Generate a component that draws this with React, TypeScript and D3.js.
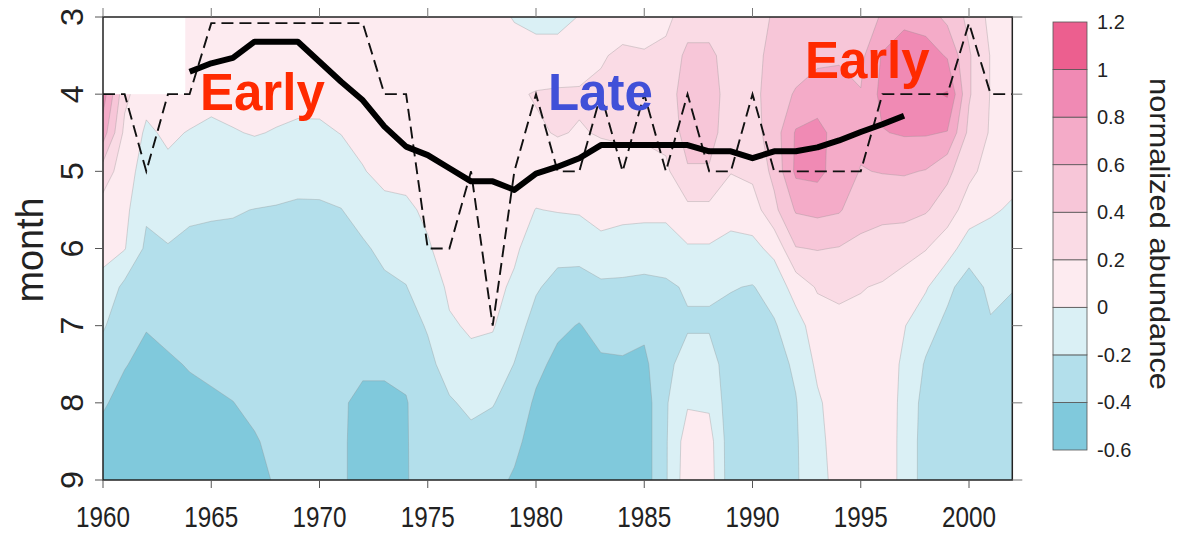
import React from "react";
import * as d3 from "d3";

// ---------------- data ----------------
const YEARS = d3.range(1960, 2003); // grid columns, one per year
const MONTH_ROWS = [3, 3.5, 4, 4.5, 5, 5.5, 6, 6.5, 7, 7.5, 8, 8.5, 9]; // grid rows

// normalized abundance, one row per year (1960..2002), values for MONTH_ROWS
const ABUNDANCE: number[][] = [
  [0.1, 0.1, 0.9, 0.7, 0.3, 0.12, 0.05, -0.05, -0.18, -0.3, -0.38, -0.46, -0.5], // 1960
  [0.1, 0.1, 0.25, 0.15, 0.1, 0.05, 0.01, -0.25, -0.32, -0.39, -0.46, -0.5, -0.5],
  [0.1, 0.1, 0.06, -0.03, -0.1, -0.17, -0.24, -0.31, -0.39, -0.45, -0.5, -0.52, -0.52],
  [0.1, 0.1, 0.1, 0.03, -0.04, -0.13, -0.21, -0.27, -0.36, -0.42, -0.47, -0.5, -0.52],
  [0.1, 0.15, 0.1, -0.01, -0.09, -0.17, -0.24, -0.29, -0.34, -0.39, -0.44, -0.48, -0.5],
  [0.12, 0.15, 0.05, -0.035, -0.11, -0.185, -0.236, -0.282, -0.327, -0.373, -0.42, -0.46, -0.48], // 1965
  [0.12, 0.14, 0.06, -0.01, -0.1, -0.19, -0.237, -0.278, -0.318, -0.36, -0.402, -0.44, -0.47],
  [0.12, 0.14, 0.06, 0.01, -0.1, -0.203, -0.237, -0.27, -0.305, -0.339, -0.373, -0.41, -0.43],
  [0.12, 0.14, 0.06, -0.01, -0.13, -0.21, -0.24, -0.27, -0.3, -0.32, -0.35, -0.37, -0.39],
  [0.12, 0.14, 0.06, -0.035, -0.15, -0.22, -0.25, -0.27, -0.29, -0.31, -0.32, -0.33, -0.34],
  [0.12, 0.14, 0.06, -0.033, -0.145, -0.22, -0.25, -0.27, -0.29, -0.3, -0.3, -0.31, -0.32], // 1970
  [0.12, 0.14, 0.08, 0.005, -0.095, -0.205, -0.25, -0.28, -0.31, -0.34, -0.38, -0.38, -0.38],
  [0.12, 0.15, 0.12, 0.05, -0.01, -0.12, -0.23, -0.28, -0.32, -0.37, -0.44, -0.45, -0.45],
  [0.12, 0.15, 0.14, 0.1, 0.05, -0.05, -0.15, -0.24, -0.3, -0.37, -0.44, -0.46, -0.46],
  [0.12, 0.15, 0.15, 0.12, 0.05, -0.03, -0.13, -0.205, -0.28, -0.36, -0.41, -0.41, -0.41],
  [0.12, 0.15, 0.15, 0.12, 0.08, 0.03, -0.017, -0.1, -0.183, -0.25, -0.3, -0.32, -0.33], // 1975
  [0.15, 0.17, 0.17, 0.15, 0.13, 0.1, 0.07, 0.03, -0.02, -0.12, -0.22, -0.27, -0.3],
  [0.15, 0.18, 0.18, 0.16, 0.14, 0.11, 0.08, 0.05, 0.02, -0.04, -0.16, -0.25, -0.3],
  [0.1, 0.17, 0.18, 0.16, 0.14, 0.11, 0.08, 0.05, 0.015, -0.075, -0.19, -0.28, -0.35],
  [-0.02, 0.12, 0.18, 0.17, 0.13, 0.08, 0.03, -0.03, -0.12, -0.205, -0.28, -0.36, -0.42],
  [-0.08, 0.1, 0.21, 0.18, 0.1, -0.005, -0.09, -0.18, -0.27, -0.35, -0.43, -0.47, -0.5], // 1980
  [-0.08, 0.1, 0.22, 0.21, 0.12, 0.01, -0.14, -0.26, -0.36, -0.45, -0.5, -0.52, -0.53],
  [0.01, 0.12, 0.22, 0.19, 0.12, 0.02, -0.13, -0.28, -0.41, -0.48, -0.52, -0.53, -0.54],
  [0.1, 0.19, 0.22, 0.21, 0.14, 0.06, -0.05, -0.24, -0.33, -0.43, -0.5, -0.52, -0.53],
  [0.15, 0.22, 0.24, 0.22, 0.15, 0.05, -0.08, -0.24, -0.33, -0.42, -0.5, -0.52, -0.53],
  [0.1, 0.22, 0.24, 0.22, 0.15, 0.05, -0.1, -0.25, -0.36, -0.44, -0.5, -0.5, -0.5], // 1985
  [0.15, 0.25, 0.3, 0.26, 0.16, 0.05, -0.1, -0.23, -0.3, -0.25, -0.22, -0.22, -0.22],
  [0.3, 0.45, 0.5, 0.48, 0.38, 0.15, -0.02, -0.18, -0.22, -0.12, -0.02, 0.1, 0.12],
  [0.3, 0.45, 0.5, 0.48, 0.38, 0.15, -0.02, -0.18, -0.22, -0.12, -0.03, 0.08, 0.1],
  [0.25, 0.3, 0.3, 0.28, 0.21, 0.06, -0.05, -0.19, -0.26, -0.3, -0.32, -0.32, -0.32],
  [0.32, 0.34, 0.34, 0.32, 0.25, 0.1, -0.05, -0.21, -0.27, -0.3, -0.32, -0.32, -0.32], // 1990
  [0.42, 0.46, 0.5, 0.5, 0.45, 0.35, 0.05, -0.12, -0.22, -0.27, -0.3, -0.3, -0.3],
  [0.45, 0.5, 0.62, 0.82, 0.84, 0.62, 0.39, 0.08, -0.08, -0.17, -0.21, -0.22, -0.22],
  [0.5, 0.55, 0.7, 0.86, 0.86, 0.65, 0.41, 0.22, 0.1, 0.04, -0.03, -0.05, -0.08],
  [0.52, 0.58, 0.66, 0.72, 0.7, 0.62, 0.39, 0.24, 0.15, 0.12, 0.1, 0.08, 0.08],
  [0.5, 0.55, 0.61, 0.65, 0.59, 0.48, 0.35, 0.21, 0.15, 0.12, 0.1, 0.08, 0.08], // 1995
  [0.62, 0.82, 0.86, 0.79, 0.61, 0.45, 0.32, 0.18, 0.12, 0.1, 0.09, 0.08, 0.08],
  [0.75, 0.9, 0.92, 0.82, 0.62, 0.45, 0.3, 0.08, 0.01, -0.03, -0.04, -0.04, -0.04],
  [0.7, 0.9, 0.95, 0.82, 0.59, 0.42, 0.21, 0.02, -0.12, -0.22, -0.28, -0.3, -0.3],
  [0.55, 0.78, 1.02, 0.79, 0.45, 0.3, 0.08, -0.15, -0.25, -0.33, -0.35, -0.35, -0.35],
  [0.35, 0.42, 0.42, 0.35, 0.25, 0.1, -0.1, -0.3, -0.33, -0.35, -0.32, -0.3, -0.3], // 2000
  [0.15, 0.19, 0.19, 0.18, 0.12, 0.02, -0.08, -0.15, -0.22, -0.28, -0.3, -0.3, -0.3],
  [0.1, 0.12, 0.12, 0.1, 0.05, -0.02, -0.15, -0.19, -0.26, -0.3, -0.3, -0.3, -0.3],
];

// no-data (blank) corner of the field
const BLANK_YEAR_END = 1963.8;
const BLANK_MONTH_END = 4;

const LEVELS = [-0.6, -0.4, -0.2, 0, 0.2, 0.4, 0.6, 0.8, 1.0, 1.2];
const LEVEL_COLORS = [
  "#80c9dc", "#b3dfeb", "#daf0f5", "#fdebf0", "#fadbe5",
  "#f7c6d8", "#f4abc8", "#f08ab4", "#ec5f8f",
];

// dashed line: month of peak abundance per year
const PEAK_YEARS = d3.range(1960, 2003);
const PEAK_MONTH = [
  4, 4, 5, 4, 4, 3.08, 3.08, 3.08, 3.08, 3.08,
  3.08, 3.08, 3.08, 4, 4, 6, 6, 5, 7, 5,
  4, 5, 5, 4, 5, 4, 5, 4, 5, 5,
  4, 5, 5, 5, 5, 5, 4, 4, 4, 4,
  3.08, 4, 4,
];

// thick line: smoothed timing
const TREND_YEARS = d3.range(1964, 1998);
const TREND_MONTH = [
  3.71, 3.6, 3.53, 3.32, 3.32, 3.32, 3.58, 3.84, 4.08, 4.42,
  4.68, 4.79, 4.96, 5.13, 5.13, 5.24, 5.03, 4.94, 4.83, 4.66,
  4.66, 4.66, 4.66, 4.66, 4.74, 4.74, 4.83, 4.74, 4.74, 4.69,
  4.6, 4.49, 4.39, 4.28,
];

const X_TICKS = [1960, 1965, 1970, 1975, 1980, 1985, 1990, 1995, 2000];
const Y_TICKS = [3, 4, 5, 6, 7, 8, 9];

const ANNOTATIONS = [
  { text: "Early", year: 1964.48, month: 4.2, color: "#ff2a00" },
  { text: "Late", year: 1980.55, month: 4.2, color: "#4050d8" },
  { text: "Early", year: 1992.42, month: 3.79, color: "#ff2a00" },
];

// ---------------- chart ----------------
export default function App() {
  const W = 1180;
  const H = 533;
  const x = d3.scaleLinear().domain([1960, 2002]).range([103, 1012.3]);
  const y = d3.scaleLinear().domain([3, 9]).range([17, 480]);
  const [x0, x1] = x.range();
  const [y0, y1] = y.range();

  const nx = YEARS.length;
  const ny = MONTH_ROWS.length;
  const values: number[] = new Array(nx * ny);
  for (let j = 0; j < ny; j++)
    for (let i = 0; i < nx; i++) values[j * nx + i] = ABUNDANCE[i][j];

  const bands = d3.contours().size([nx, ny]).thresholds(LEVELS.slice(0, -1))(values);
  const yStep = YEARS[1] - YEARS[0];
  const mStep = MONTH_ROWS[1] - MONTH_ROWS[0];
  const proj = d3.geoTransform({
    point(px: number, py: number) {
      // @ts-ignore
      this.stream.point(x(YEARS[0] + (px - 0.5) * yStep), y(MONTH_ROWS[0] + (py - 0.5) * mStep));
    },
  });
  const gpath = d3.geoPath(proj as any);

  const peakLine = d3
    .line<number>()
    .x((_, i) => x(PEAK_YEARS[i]))
    .y((d) => y(d))(PEAK_MONTH) as string;
  const trendLine = d3
    .line<number>()
    .x((_, i) => x(TREND_YEARS[i]))
    .y((d) => y(d))(TREND_MONTH) as string;

  const cb = d3.scaleLinear().domain([LEVELS[0], LEVELS[LEVELS.length - 1]]).range([450, 22]);
  const cbX = 1053;
  const cbW = 34;
  const fmt = (v: number) => String(+v.toFixed(1));

  const axisFont = "'Liberation Sans', Arial, Helvetica, sans-serif";
  const textColor = "#222";

  return (
    <svg
      width={W}
      height={H}
      style={{ position: "absolute", left: 0, top: 0, background: "#fff" }}
      fontFamily={axisFont}
    >
      <defs>
        <clipPath id="plotClip">
          <rect x={x0} y={y0} width={x1 - x0} height={y1 - y0} />
        </clipPath>
      </defs>

      <g clipPath="url(#plotClip)">
        {bands.map((b, i) => (
          <path
            key={i}
            d={gpath(b as any) || ""}
            fill={LEVEL_COLORS[i]}
            stroke="#8d8d8d"
            strokeOpacity={0.55}
            strokeWidth={0.6}
          />
        ))}
        <rect
          x={x(1960)}
          y={y(3)}
          width={x(BLANK_YEAR_END) - x(1960)}
          height={y(BLANK_MONTH_END) - y(3)}
          fill="#ffffff"
        />
        <path d={peakLine} fill="none" stroke="#111" strokeWidth={1.9} strokeDasharray="12 6" />
        <path d={trendLine} fill="none" stroke="#000" strokeWidth={6} strokeLinejoin="round" />
      </g>

      {/* frame */}
      <rect x={x0} y={y0} width={x1 - x0} height={y1 - y0} fill="none" stroke="#222" strokeWidth={1.5} />

      {/* x ticks */}
      {X_TICKS.map((t) => (
        <g key={"xt" + t}>
          <line x1={x(t)} x2={x(t)} y1={y1} y2={y1 + 8} stroke="#555" strokeWidth={1} />
          <line x1={x(t)} x2={x(t)} y1={y0} y2={y0 - 9} stroke="#777" strokeWidth={1} />
          <text
            x={x(t)}
            y={527}
            fontSize={30}
            textAnchor="middle"
            fill={textColor}
            textLength={54}
            lengthAdjust="spacingAndGlyphs"
          >
            {t}
          </text>
        </g>
      ))}

      {/* y ticks */}
      {Y_TICKS.map((t) => (
        <g key={"yt" + t}>
          <line x1={x0 - 8} x2={x0} y1={y(t)} y2={y(t)} stroke="#555" strokeWidth={1} />
          <line x1={x1} x2={x1 + 10} y1={y(t)} y2={y(t)} stroke="#777" strokeWidth={1} />
          <text
            transform={`translate(83,${y(t)}) rotate(-90)`}
            fontSize={32}
            textAnchor="middle"
            fill={textColor}
            textLength={18}
            lengthAdjust="spacingAndGlyphs"
          >
            {t}
          </text>
        </g>
      ))}

      <text
        transform={`translate(43,250) rotate(-90)`}
        fontSize={38}
        textAnchor="middle"
        fill={textColor}
        textLength={105}
        lengthAdjust="spacingAndGlyphs"
      >
        month
      </text>

      {/* annotations */}
      {ANNOTATIONS.map((a, i) => (
        <text
          key={"an" + i}
          x={x(a.year)}
          y={y(a.month)}
          fontSize={51}
          fontWeight="bold"
          fill={a.color}
        >
          {a.text}
        </text>
      ))}

      {/* color bar */}
      {LEVEL_COLORS.map((c, i) => (
        <rect
          key={"cb" + i}
          x={cbX}
          y={cb(LEVELS[i + 1])}
          width={cbW}
          height={cb(LEVELS[i]) - cb(LEVELS[i + 1])}
          fill={c}
          stroke="#555"
          strokeWidth={0.8}
        />
      ))}
      {LEVELS.map((v) => (
        <text
          key={"cbl" + v}
          x={1097}
          y={cb(v) + 7}
          fontSize={20}
          fill={textColor}
        >
          {fmt(v)}
        </text>
      ))}
      <text
        transform={`translate(1150,234) rotate(90)`}
        fontSize={27}
        textAnchor="middle"
        fill={textColor}
        textLength={312}
        lengthAdjust="spacingAndGlyphs"
      >
        normalized abundance
      </text>
    </svg>
  );
}
